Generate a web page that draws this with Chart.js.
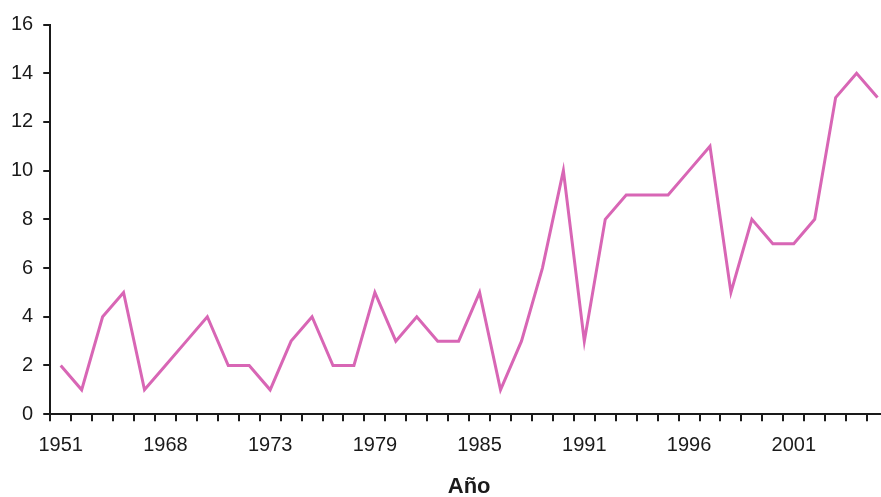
<!DOCTYPE html>
<html>
<head>
<meta charset="utf-8">
<script src="https://cdn.jsdelivr.net/npm/chart.js@4/dist/chart.umd.min.js"></script>
<style>
  html, body { margin: 0; padding: 0; background: #fff; }
  #frame { width: 881px; height: 497px; overflow: hidden; }
  #box { width: 890px; height: 500px; }
</style>
</head>
<body>
<div id="frame">
  <div id="box"><canvas id="myChart"></canvas></div>
</div>
<script>
// años mostrados en el eje (solo cada 5 categorías lleva etiqueta)
const years = [
  '1951', '', '', '', '', '1968', '', '', '', '',
  '1973', '', '', '', '', '1979', '', '', '', '',
  '1985', '', '', '', '', '1991', '', '', '', '',
  '1996', '', '', '', '', '2001', '', '', '', ''
];
const counts = [
  2, 1, 4, 5, 1, 2, 3, 4, 2, 2,
  1, 3, 4, 2, 2, 5, 3, 4, 3, 3,
  5, 1, 3, 6, 10, 3, 8, 9, 9, 9,
  10, 11, 5, 8, 7, 7, 8, 13, 14, 13
];
const yTicks = [0, 2, 4, 6, 8, 10, 12, 14, 16];

const ink = '#1a1a1a';
const font = { family: "'Liberation Sans', Arial, sans-serif", size: 20 };

new Chart('myChart', {
  type: 'line',
  data: {
    labels: years,
    datasets: [{
      data: counts,
      borderColor: '#d866b5', // rosa de la línea
      borderWidth: 3,
      pointRadius: 0,
      tension: 0,
    }],
  },
  options: {
    responsive: true,
    maintainAspectRatio: false,
    animation: false,
    layout: { padding: { left: 1, right: 2, top: 24.5, bottom: 0 } },
    plugins: { legend: { display: false }, tooltip: { enabled: false } },
    scales: {
      x: {
        offset: true,
        grid: { offset: true, drawOnChartArea: false, color: ink, lineWidth: 2, tickLength: 7 },
        border: { color: ink, width: 2 },
        ticks: { autoSkip: false, maxRotation: 0, color: ink, font: font, padding: 12 },
        title: {
          display: true,
          text: 'Año',
          color: ink,
          font: { family: font.family, size: 22, weight: 'bold' },
          padding: { top: 4.4, bottom: 0 },
        },
      },
      y: {
        min: 0,
        max: 16,
        afterBuildTicks: (scale) => { scale.ticks = yTicks.map(v => ({ value: v })); },
        grid: { drawOnChartArea: false, color: ink, lineWidth: 2, tickLength: 7 },
        border: { color: ink, width: 2 },
        ticks: { color: ink, font: font, padding: 10 },
      },
    },
  },
});
</script>
</body>
</html>
